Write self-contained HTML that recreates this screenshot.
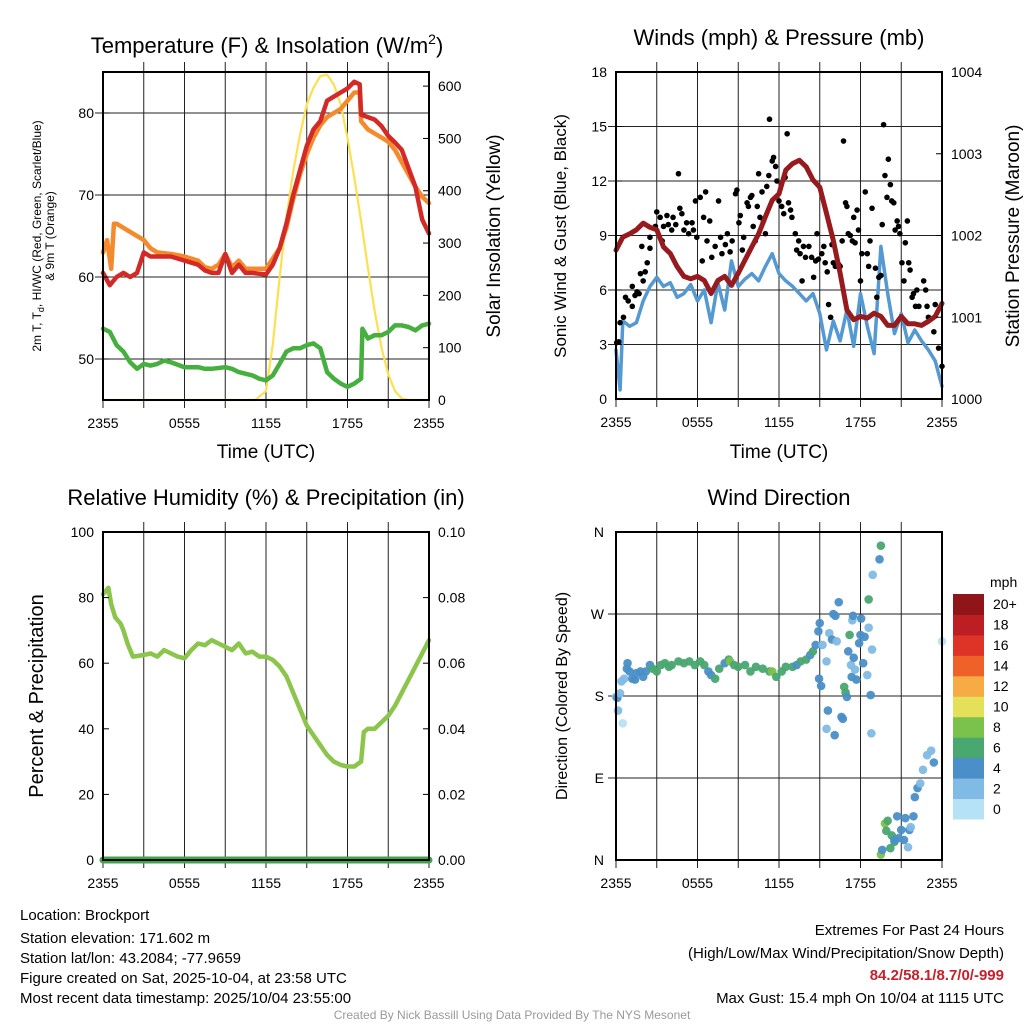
<!DOCTYPE html>
<html><head><meta charset="utf-8"><style>
html,body{margin:0;padding:0;background:#fff;}
svg{display:block;font-family:"Liberation Sans",sans-serif;}
</style></head><body>
<svg id="chart" width="1024" height="1024" viewBox="0 0 1024 1024" xmlns="http://www.w3.org/2000/svg">
<text x="267" y="53" font-size="22" text-anchor="middle">Temperature (F) &amp; Insolation (W/m<tspan font-size="14" dy="-9">2</tspan><tspan dy="9">)</tspan></text>
<text x="779" y="45" font-size="22" text-anchor="middle">Winds (mph) &amp; Pressure (mb)</text>
<text x="266" y="505" font-size="22" text-anchor="middle">Relative Humidity (%) &amp; Precipitation (in)</text>
<text x="779" y="505" font-size="22" text-anchor="middle">Wind Direction</text>
<text transform="translate(41,236) rotate(-90)" font-size="12" text-anchor="middle"><tspan x="0" dy="0">2m T, T<tspan font-size="9" dy="3">d</tspan><tspan dy="-3">, HI/WC (Red, Green, Scarlet/Blue)</tspan></tspan><tspan x="0" dy="13">&amp; 9m T (Orange)</tspan></text>
<text transform="translate(500,236) rotate(-90)" font-size="19" text-anchor="middle">Solar Insolation (Yellow)</text>
<text transform="translate(566,236) rotate(-90)" font-size="17" text-anchor="middle">Sonic Wind &amp; Gust (Blue, Black)</text>
<text transform="translate(1019,236) rotate(-90)" font-size="19" text-anchor="middle">Station Pressure (Maroon)</text>
<text transform="translate(43,696) rotate(-90)" font-size="20" text-anchor="middle">Percent &amp; Precipitation</text>
<text transform="translate(567,696) rotate(-90)" font-size="16" text-anchor="middle">Direction (Colored By Speed)</text>
<text x="266" y="458" font-size="19" text-anchor="middle">Time (UTC)</text>
<text x="779" y="458" font-size="19" text-anchor="middle">Time (UTC)</text>
<g font-size="15">
<text x="20" y="920">Location: Brockport</text>
<text x="20" y="943">Station elevation: 171.602 m</text>
<text x="20" y="963">Station lat/lon: 43.2084; -77.9659</text>
<text x="20" y="983">Figure created on Sat, 2025-10-04, at 23:58 UTC</text>
<text x="20" y="1003">Most recent data timestamp: 2025/10/04 23:55:00</text>
</g>
<g font-size="15" text-anchor="end">
<text x="1004" y="935">Extremes For Past 24 Hours</text>
<text x="1004" y="958">(High/Low/Max Wind/Precipitation/Snow Depth)</text>
<text x="1004" y="980" fill="#c8202a" font-weight="bold">84.2/58.1/8.7/0/-999</text>
<text x="1004" y="1003">Max Gust: 15.4 mph On 10/04 at 1115 UTC</text>
</g>
<text x="512" y="1019" font-size="12" fill="#999" text-anchor="middle">Created By Nick Bassill Using Data Provided By The NYS Mesonet</text>
</svg>
<script>
// ---------- data ----------
const xTickLabels = ["2355","0555","1155","1755","2355"];
const xTickHours = [0,6,12,18,24];
const tempHours = [0,0.5,1,1.5,2,2.5,3,3.5,4,5,6,7,7.5,8,8.5,9,9.5,10,10.5,11,12,12.5,13,13.5,14,14.5,15,15.5,16,16.5,17,17.5,18,18.5,18.9,19,20,20.5,21,21.5,22,23,23.5,24];
const tempRed = [60.5,59,60,60.5,60,60.5,63,62.5,62.5,62.5,62,61.5,60.8,60.5,60.5,62.8,60.5,61.5,60.5,60.5,60.3,61.5,63.5,66.5,70,73,76,78,79,81.5,82,82.5,83,83.8,83.5,79.8,79.2,78.4,77.2,76.4,75.5,71,67,65.3];
const orangeHours = [0,0.3,0.6,0.8,1,2,3,3.5,4,5,6,7,7.5,8,8.5,9,9.5,10,10.5,11,12,13,13.5,14,14.5,15,15.5,16,16.5,17,17.5,18,18.5,18.9,19,19.5,20,20.5,21,21.5,22,22.5,23,23.5,24];
const tempOrange = [63,64.5,61,66.5,66.5,65.5,64.5,63.5,63,62.8,62.5,62,61.2,61,61.5,62.8,61.2,62,61,61,61,63.5,66,69.5,72.5,75,77,78.5,79.5,80,80.5,81.5,82.5,82.5,79,78,77.5,77,76.5,75.5,74,72.5,71,69.8,69];
const dewHours = [0,0.5,1,1.5,2,2.5,3,3.5,4,4.5,5,6,7,7.5,8,9,9.5,10,11,11.5,12,12.5,13,13.5,14,14.5,15,15.5,16,16.5,17,17.5,18,18.5,19,19.1,19.5,20,20.5,21,21.5,22,22.5,23,23.5,24];
const dewPoint = [53.7,53.3,51.7,50.9,49.6,48.8,49.4,49.2,49.4,49.8,49.6,49,49,48.8,48.8,49,48.8,48.4,48,47.6,47.4,48,49.4,50.9,51.3,51.3,51.7,51.9,51.3,48.4,47.6,47,46.6,47,47.6,53.7,52.5,52.9,52.9,53.3,54.1,54.1,53.9,53.5,54.1,54.3];
const solarHours = [0,11.2,12,12.5,13,13.5,14,14.5,15,15.5,16,16.5,17,17.5,18,18.5,19,19.5,20,20.5,21,21.5,22,22.5,24];
const solar = [0,0,17,106,234,348,437,507,565,597,619,622,603,565,501,425,342,253,170,100,49,17,3,0,0];
const windHours = [0,0.3,0.5,1,1.5,2,2.5,3,3.5,4,4.5,5,5.5,6,6.5,7,7.5,8,8.5,9,9.5,10,10.5,11,11.5,12,12.5,13,13.5,14,14.5,15,15.5,16,16.5,17,17.5,18,18.5,19,19.5,20,20.5,21,21.5,22,22.5,23,23.5,24];
const windSpeed = [2.7,0.5,4.3,4,4.2,5.4,6.2,6.7,6.2,6.4,5.6,5.8,6.3,5.4,6.0,4.2,6.4,4.9,7.6,6.2,6.6,6.9,6.5,7.3,8,6.9,6.5,6.2,5.8,5.4,5.8,4.7,2.7,4.3,3.2,4.9,2.9,5.8,4,2.5,8.4,5.8,3.6,4.7,3.1,3.8,3.2,2.7,2.1,0.7];
const gustHours = [0.05,0.2,0.3,0.55,0.7,0.9,1.2,1.4,1.55,1.7,1.2,1.8,2.0,2.15,2.3,1.9,2.5,2.5,2.9,3.0,3.25,3.4,3.5,3.75,3.85,4.1,4.2,4.4,4.6,4.7,4.85,5.0,5.2,5.35,5.6,5.7,5.85,5.95,6.2,6.35,6.45,6.6,6.7,6.9,7.05,7.3,7.55,7.7,7.8,8.05,8.2,8.4,8.55,8.8,8.9,9.05,9.15,9.3,9.4,9.65,9.75,9.9,10.0,10.1,10.25,10.4,10.5,10.6,10.75,10.85,11.0,11.1,11.25,11.3,11.5,11.6,11.75,11.85,12.0,12.2,12.35,12.45,12.6,12.7,12.85,12.95,13.2,13.3,13.45,13.55,13.7,13.8,13.95,14.2,14.4,14.55,14.7,14.8,14.9,15.15,15.3,15.4,15.55,15.65,15.8,15.9,16.0,16.15,16.4,16.5,16.65,16.75,16.9,17.0,17.1,17.25,17.4,17.5,17.6,17.75,17.85,18.0,18.1,18.35,18.5,18.6,18.7,18.85,19.1,19.2,19.35,19.5,19.6,19.7,19.8,19.95,20.05,20.2,20.3,20.45,20.55,20.7,20.8,20.9,21.05,21.2,21.3,21.45,21.55,21.65,21.8,21.9,22.05,22.15,22.3,22.65,22.8,22.9,23.0,23.4,23.5,23.75,24.0];
const gustSpeed = [3.1,3.15,4.2,4.5,5.6,5.4,5.1,5.7,5.9,5.8,6.2,6.9,6.5,7.0,7.5,8.4,8.3,8.9,9.5,10.3,10.0,8.7,9.5,10.1,9.6,9.3,10.0,9.6,12.4,10.5,10.2,9.3,9.7,9.1,9.7,9.3,10.9,8.9,11.1,7.6,10.0,11.4,8.7,9.8,7.8,8.4,10.9,8.9,8.0,8.5,9.1,8.1,8.7,11.3,11.5,9.7,10.1,8.2,8.9,10.8,10.6,11.1,11.2,9.5,8.7,10.6,12.4,10.0,11.4,9.8,9.1,11.7,12.3,15.4,13.1,13.3,12.8,12.0,10.9,10.6,10.2,12.2,14.6,10.8,10.4,10.0,9.1,8.2,8.7,8.0,6.5,8.4,7.8,8.4,7.8,6.7,7.6,9.1,7.7,8.0,8.4,7.5,7.0,5.2,4.5,8.5,7.5,7.3,7.4,7.3,8.7,14.2,10.8,10.6,9.1,9.0,8.7,10.0,8.6,10.4,9.3,6.5,8.0,11.4,8.0,7.3,8.7,10.5,7.2,5.6,6.7,6.8,9.6,15.1,12.3,11.1,13.2,11.8,10.9,10.8,9.3,9.8,9.5,9.1,7.5,6.5,8.6,9.8,7.5,7.1,5.6,5.8,5.1,6.0,5.1,6.5,6.0,5.1,4.5,3.7,5.2,2.8,1.8];
const pressHours = [0,0.5,1,1.5,2,2.5,3,3.5,4,4.5,5,5.5,6,6.5,7,7.5,8,8.5,9,9.5,10,10.5,11,11.5,12,12.5,13,13.5,14,14.5,15,15.5,16,16.5,17,17.5,18,18.5,19,19.5,20,20.5,21,21.5,22,22.5,23,23.5,24];
const pressure = [1001.82,1001.98,1002.02,1002.07,1002.15,1002.1,1002.07,1001.86,1001.78,1001.62,1001.5,1001.47,1001.5,1001.45,1001.29,1001.45,1001.5,1001.39,1001.54,1001.7,1001.86,1002.02,1002.23,1002.43,1002.51,1002.8,1002.88,1002.92,1002.84,1002.68,1002.59,1002.27,1001.94,1001.54,1001.09,1000.97,1001.01,1000.99,1001.05,1001.01,1000.9,1000.9,1001.01,1000.92,1000.92,1000.9,1000.95,1001.01,1001.17];
const rhHours = [0,0.4,0.6,0.9,1.3,1.5,1.8,2,2.2,3,3.5,4,4.5,5,5.5,6,6.5,7,7.5,8,8.5,9,9.5,10,10.5,11,11.5,12,12.5,13,13.5,14,14.5,15,15.5,16,16.5,17,17.5,18,18.5,19,19.2,19.5,20,20.5,21,21.5,22,22.5,23,23.5,24];
const humidity = [81,83,78,74,72,70,66,64,62,62.5,63,62,64,63,62,61.5,64,66,65.5,67,66,65,64,66,63,63.5,62,62,61,59,56,51,46,41,38,35,32,30,29,28.5,28.5,30,39,40,40,42,44,47,51,55,59,63,67];
const precipHours = [0,24];
const precip = [0,0];
const dirHours = [0,0.1,0.15,0.5,0.3,0.4,0.6,0.8,0.85,1.0,1.2,1.4,1.5,1.8,2.0,2.2,2.5,2.7,3.0,3.3,3.6,3.9,4.1,4.6,5.0,5.4,5.8,6.2,6.5,6.8,7.0,7.3,7.6,8.0,8.3,8.4,8.7,9.0,9.5,9.9,10.3,10.8,11.3,11.5,11.8,12.2,12.5,13.0,13.3,13.6,14.0,14.3,14.5,14.7,14.9,15.0,14.95,15.1,15.2,15.5,15.7,15.9,15.6,15.5,16.1,16.25,16.0,16.15,16.4,16.6,16.7,16.8,16.9,17.0,17.1,17.3,17.35,17.5,17.6,17.4,17.45,17.2,17.7,17.9,18.0,18.05,18.2,18.3,18.6,18.5,18.75,18.8,18.85,18.6,18.9,19.4,19.5,19.5,19.6,19.8,19.9,20.0,20.2,20.3,20.5,20.5,20.7,20.8,21.0,21.2,21.5,21.3,21.6,21.7,21.9,22.0,22.2,22.4,22.6,22.9,23.2,23.4,24.0];
const dirDegrees = [179,178,164,150,183,196,199,210,216,207,199,198,205,207,201,207,214,210,207,214,216,212,214,218,216,218,214,218,214,207,203,199,210,216,220,218,214,212,214,207,212,210,207,207,201,207,212,212,214,218,220,225,229,236,251,260,199,191,236,218,249,242,164,144,137,240,270,268,283,157,155,190,184,179,229,214,201,222,209,263,268,247,198,238,247,265,216,245,255,203,181,139,231,286,313,330,345,6,11,40,32,43,13,27,20,22,48,24,33,22,14,46,33,36,48,69,79,84,99,115,120,107,240];
const dirSpeed = [3,5,3,1,3,3,3,5,5,5,5,5,5,5,5,5,5,7,7,7,7,7,7,7,7,7,7,7,7,5,5,7,7,5,7,9,7,7,7,7,7,7,7,9,7,7,7,7,5,7,7,5,7,5,5,5,5,5,3,3,3,5,5,3,5,3,5,5,5,5,5,7,7,5,5,3,5,5,3,3,5,7,5,5,5,5,5,5,3,3,5,3,3,7,3,5,7,9,5,9,7,7,7,7,7,5,5,5,5,5,3,5,5,3,5,5,5,3,3,3,3,5,1];
const colorLabels = ["0","2","4","6","8","10","12","14","16","18","20+"];
const colorValues = ["#b6e2f6","#7fbbe5","#4a8fc7","#49a770","#7bc24d","#e5e05a","#f6ab45","#ef6129","#dd3427","#bd1e24","#8f1519"];

// ---------- rendering ----------
const NS = "http://www.w3.org/2000/svg";
const svg = document.getElementById("chart");
function mk(tag, attrs, parent){ const e=document.createElementNS(NS,tag); for(const k in attrs) e.setAttribute(k,attrs[k]); (parent||svg).appendChild(e); return e; }

const P1={x0:103,x1:429,y0:72,y1:400}, P2={x0:616,x1:942,y0:72,y1:399}, P3={x0:103,x1:429,y0:532,y1:860}, P4={x0:616,x1:942,y0:532,y1:860};
const xs=(p,h)=>p.x0+(h/24)*(p.x1-p.x0);
const ys=(p,v,lo,hi)=>p.y1-(v-lo)/(hi-lo)*(p.y1-p.y0);

function frame(p, name, hgrid, lo, hi){
  const g=mk("g",{});
  
  
  for(let h=0;h<=24;h+=3){
    const l=mk("line",{x1:xs(p,h),x2:xs(p,h),y1:(h>0&&h<24)?p.y0-10:p.y1,y2:p.y1+8,stroke:"#222","stroke-width":1},g);
    
    
  }
  hgrid.forEach(v=>{
    const y=ys(p,v,lo,hi);
    const l=mk("line",{x1:p.x0-8,x2:p.x1,y1:y,y2:y,stroke:"#222","stroke-width":1},g);
    
    
  });
  xTickHours.forEach((h,i)=>{
    const t=mk("text",{x:xs(p,h),y:p.y1+28,"font-size":14,"text-anchor":"middle"},g);
    t.textContent=xTickLabels[i];
    
    
  });
  return g;
}
function border(p,name){
  const r=mk("rect",{x:p.x0,y:p.y0,width:p.x1-p.x0,height:p.y1-p.y0,fill:"none",stroke:"#000","stroke-width":2});
  
  
}
function yLabels(p,vals,lo,hi,side,fmt){
  vals.forEach(v=>{
    const y=ys(p,v,lo,hi);
    const t=mk("text",{x:side==="left"?p.x0-9:p.x1+9,y:y+5,"font-size":14,"text-anchor":side==="left"?"end":"start"});
    t.textContent=fmt?fmt(v):String(v);
    
    
    const tk=mk("line",{x1:side==="left"?p.x0:p.x1,x2:side==="left"?p.x0+6:p.x1-6,y1:y,y2:y,stroke:"#000","stroke-width":1});
    
    
  });
}
function line(p,hours,vals,lo,hi,color,w,name){
  const d=hours.map((h,i)=>(i?"L":"M")+xs(p,h).toFixed(1)+","+ys(p,vals[i],lo,hi).toFixed(1)).join(" ");
  const e=mk("path",{d:d,fill:"none",stroke:color,"stroke-width":w,"stroke-linejoin":"round","stroke-linecap":"round"});
  
  
}

// Panel 1
frame(P1,"temperature",[50,60,70,80],45,85);
line(P1,solarHours,solar,0,627,"#fde050",2.2,"solar-insolation-line");
line(P1,dewHours,dewPoint,45,85,"#46b03f",4.5,"dewpoint-line");
line(P1,orangeHours,tempOrange,45,85,"#f58a2c",4.5,"temperature-9m-line");
line(P1,tempHours,tempRed,45,85,"#d42a27",4.5,"temperature-2m-line");
border(P1,"temperature");
yLabels(P1,[50,60,70,80],45,85,"left");
yLabels(P1,[0,100,200,300,400,500,600],0,627,"right");

// Panel 2
frame(P2,"winds",[3,6,9,12,15],0,18);
line(P2,windHours,windSpeed,0,18,"#5499d1",3.5,"sustained-wind-line");
gustHours.forEach((h,i)=>{
  const c=mk("circle",{cx:xs(P2,h),cy:ys(P2,gustSpeed[i],0,18),r:2.8,fill:"#000"});
  
  
});
line(P2,pressHours,pressure,1000,1004,"#971b1e",5,"pressure-line");
border(P2,"winds");
yLabels(P2,[0,3,6,9,12,15,18],0,18,"left");
yLabels(P2,[1000,1001,1002,1003,1004],1000,1004,"right");

// Panel 3
frame(P3,"humidity",[],0,100);
line(P3,rhHours,humidity,0,100,"#8cc54b",4.5,"relative-humidity-line");
line(P3,precipHours,precip,0,0.1,"#3fa548",7,"precipitation-line");
border(P3,"humidity");
yLabels(P3,[0,20,40,60,80,100],0,100,"left");
yLabels(P3,[0,0.02,0.04,0.06,0.08,0.1],0,0.1,"right",v=>v.toFixed(2));

// Panel 4
frame(P4,"wind-direction",[90,180,270],0,360);
dirHours.forEach((h,i)=>{
  const idx=Math.min(10,Math.floor(dirSpeed[i]/2));
  const c=mk("circle",{cx:xs(P4,h),cy:ys(P4,dirDegrees[i],0,360),r:4.3,fill:colorValues[idx],"fill-opacity":0.95});
  
  
});
border(P4,"wind-direction");
const dirNames=["N","E","S","W","N"];
dirNames.forEach((n,i)=>{
  const y=ys(P4,i*90,0,360);
  const t=mk("text",{x:P4.x0-12,y:y+5,"font-size":14,"text-anchor":"end"});
  t.textContent=n;
  
  
});

// Colorbar
const cbX=953, cbTop=594, cbH=225, cbW=31, n=colorValues.length, bh=cbH/n;
const cbT=mk("text",{x:990,y:587,"font-size":14});
cbT.textContent="mph";


colorValues.forEach((c,i)=>{
  const y=cbTop+cbH-(i+1)*bh;
  const r=mk("rect",{x:cbX,y:y,width:cbW,height:bh+0.5,fill:c});
  
  
  const t=mk("text",{x:993,y:y+bh/2+5,"font-size":14});
  t.textContent=colorLabels[i];
  
  
});
</script>
</body></html>
